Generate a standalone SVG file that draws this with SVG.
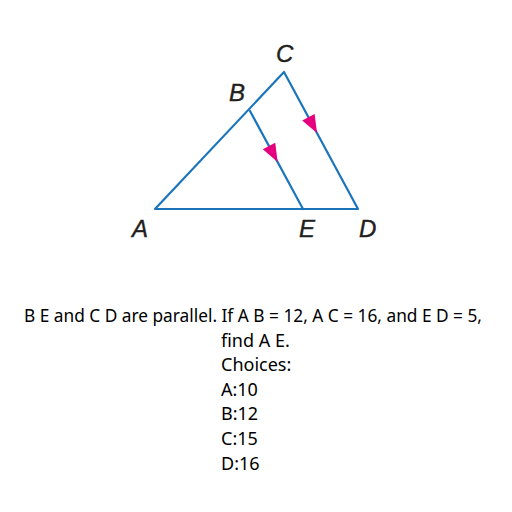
<svg xmlns="http://www.w3.org/2000/svg" width="512" height="512" viewBox="0 0 512 512">
<style>
.ln{stroke:#1b75bc;stroke-width:2.2;fill:none;stroke-linecap:round;stroke-linejoin:round}
.ar{fill:#e6007e}
.lb{font-family:"Liberation Sans",Arial,sans-serif;font-style:italic;font-size:24px;fill:#231f20;stroke:#231f20;stroke-width:0.4}
.tx{font-family:"Noto Sans","Open Sans",sans-serif;font-size:18px;fill:#000}
</style>
<rect width="512" height="512" fill="#fff"/>
<g id="connectors">
<path class="ln" d="M155,209 L358,209 L284,72 Z"/>
<path class="ln" d="M250,111 L303,209"/>
<path class="ar" d="M262.8,149.3 L275.2,142.7 L277.6,162 Z"/>
<path class="ar" d="M302.2,120.5 L314.6,113.9 L317,133 Z"/>
</g>
<g id="A"><text class="lb" x="132" y="237">A</text></g>
<g id="B"><text class="lb" x="229" y="101">B</text></g>
<g id="C"><text class="lb" x="276" y="62">C</text></g>
<g id="D"><text class="lb" x="359" y="237">D</text></g>
<g id="E"><text class="lb" x="299" y="237">E</text></g>
<g id="question">
<text class="tx" x="253" y="322" text-anchor="middle" textLength="458" lengthAdjust="spacingAndGlyphs">B E and C D are parallel. If A B = 12, A C = 16, and E D = 5,</text>
<text class="tx" x="221" y="347">find A E.</text>
<text class="tx" x="221" y="371">Choices:</text>
<text class="tx" x="221" y="396">A:10</text>
<text class="tx" x="221" y="420">B:12</text>
<text class="tx" x="221" y="445">C:15</text>
<text class="tx" x="221" y="470">D:16</text>
</g>
</svg>
